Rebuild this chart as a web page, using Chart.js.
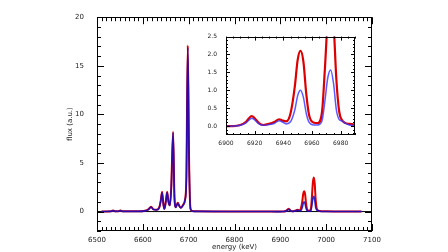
<!DOCTYPE html>
<html><head><meta charset="utf-8">
<script src="https://cdn.jsdelivr.net/npm/chart.js@4/dist/chart.umd.min.js"></script>
<style>
html,body{margin:0;padding:0;background:#fff;}
#wrap{position:relative;width:448px;height:252px;}
#main{position:absolute;left:0;top:0;}
#inset{position:absolute;left:190px;top:24px;}
</style></head>
<body><div id="wrap"><canvas id="main" width="448" height="252"></canvas><canvas id="inset" width="170" height="128"></canvas></div>
<script>
const energy = [6510,6530,6535,6540,6546,6551,6556,6590,6605,6612,6618,6623,6630,6636,6639,6642,6645,6647,6650,6653,6656,6659,6662,6666,6669,6672,6676,6680,6683,6688,6692,6695,6698,6701,6704,6708,6720,6800,6880,
 6900,6905,6910,6914,6917,6918,6920,6923,6926,6930,6934,6937,6939,6942,6945,6948,6950,6952,6954,6956,6958,6961,6964,6967,6969,6971,6973,6975,6977,6979,6981,6983,6986,6990,7000,7040,7077];
const fluxRed = [0.0,0.02,0.12,0.02,0.03,0.12,0.02,0.02,0.08,0.22,0.5,0.22,0.18,0.45,1.1,2.05,0.7,0.28,1.0,2.05,1.0,0.65,2.5,8.2,1.5,0.45,0.9,0.55,0.4,0.7,1.2,3.5,17.1,5.0,0.3,0.05,0.02,0.0,0.0,
 0.0,0.0,0.03,0.12,0.26,0.28,0.22,0.08,0.03,0.06,0.12,0.19,0.16,0.13,0.35,1.1,1.85,2.1,1.8,0.9,0.3,0.1,0.08,0.4,1.6,3.0,3.5,2.9,1.3,0.4,0.16,0.09,0.06,0.04,0.02,0.0,0.0];
const fluxBlue = [0.0,0.02,0.1,0.02,0.03,0.1,0.02,0.02,0.07,0.2,0.46,0.2,0.16,0.42,1.05,1.95,0.65,0.26,0.95,1.95,0.95,0.62,2.4,8.1,1.45,0.42,0.85,0.52,0.38,0.66,1.15,3.4,16.9,4.9,0.28,0.04,0.02,0.0,0.0,
 -0.01,0.0,0.02,0.09,0.2,0.22,0.17,0.06,0.02,0.04,0.08,0.15,0.12,0.06,0.12,0.45,0.85,1.0,0.8,0.35,0.1,0.03,0.03,0.15,0.7,1.35,1.57,1.2,0.45,0.18,0.14,0.08,0.03,0.01,0.0,0.0,0.0];
const zeroLine = [[6500,0],[7100,0]];
const xTicksMain = [6500,6600,6700,6800,6900,7000,7100];
const yTicksMain = [0,5,10,15,20];
const xTicksInset = [6900,6920,6940,6960,6980];
const yTicksInset = [0,0.5,1,1.5,2,2.5];

const pts = arr => energy.map((e,i)=>({x:e,y:arr[i]}));

const inTicks = {
  id:'inTicks',
  afterDraw(chart, args, o){
    const ctx = chart.ctx, a = chart.chartArea, xs = chart.scales.x, ys = chart.scales.y;
    ctx.save();
    ctx.strokeStyle = '#000'; ctx.lineWidth = 1;
    ctx.strokeRect(Math.round(a.left)+0.5, Math.round(a.top)+0.5, Math.round(a.right-a.left)-1, Math.round(a.bottom-a.top)-1);
    ctx.beginPath();
    const loop = (min,max,step,maj,fn) => {
      for(let k=Math.ceil(min/step-1e-9); k*step<=max+1e-9; k++){
        const v = k*step; const r = v/maj; fn(v, Math.abs(r-Math.round(r))<1e-6);
      }
    };
    loop(xs.min, xs.max, o.xMinor, o.xMajor, (v,m)=>{
      const px = Math.round(xs.getPixelForValue(v))+0.5, L = m?o.maj:o.min;
      ctx.moveTo(px,a.bottom); ctx.lineTo(px,a.bottom-L);
      ctx.moveTo(px,a.top); ctx.lineTo(px,a.top+L);
    });
    loop(ys.min, ys.max, o.yMinor, o.yMajor, (v,m)=>{
      const py = Math.round(ys.getPixelForValue(v))+0.5, L = m?o.maj:o.min;
      ctx.moveTo(a.left,py); ctx.lineTo(a.left+L,py);
      ctx.moveTo(a.right,py); ctx.lineTo(a.right-L,py);
    });
    ctx.stroke();
    ctx.restore();
  }
};

const FONT = "'DejaVu Sans', sans-serif";
const plain = v => String(v);

new Chart(document.getElementById('main'), {
  type:'line',
  data:{datasets:[
    {data:zeroLine.map(p=>({x:p[0],y:p[1]})), borderColor:'#000', borderWidth:1, pointRadius:0, order:3},
    {data:pts(fluxRed), borderColor:'rgb(225,0,0)', borderWidth:2, pointRadius:0, cubicInterpolationMode:'monotone', order:2},
    {data:pts(fluxBlue), borderColor:'rgba(10,10,200,0.85)', borderWidth:1.6, pointRadius:0, cubicInterpolationMode:'monotone', order:1}
  ]},
  options:{
    responsive:false, animation:false, devicePixelRatio:1,
    layout:{padding:{left:66,top:5,right:76,bottom:1}},
    plugins:{legend:{display:false}, tooltip:{enabled:false},
      inTicks:{xMinor:10,xMajor:100,yMinor:1,yMajor:5,maj:7,min:4}},
    scales:{
      x:{type:'linear',min:6500,max:7100,
        grid:{display:false,drawTicks:false}, border:{display:false},
        afterBuildTicks:s=>{s.ticks = xTicksMain.map(v=>({value:v}));},
        afterFit:s=>{s.height=20;},
        ticks:{font:{family:FONT,size:7},color:'#222',padding:5,maxRotation:0,autoSkip:false,callback:plain},
        title:{display:true,text:'energy (keV)',font:{family:FONT,size:7},color:'#222',padding:0}},
      y:{min:-2,max:20,
        grid:{display:false,drawTicks:false}, border:{display:false},
        afterBuildTicks:s=>{s.ticks = yTicksMain.map(v=>({value:v}));},
        afterFit:s=>{s.width=31;},
        ticks:{font:{family:FONT,size:7},color:'#222',padding:13,callback:plain},
        title:{display:true,text:'flux (a.u.)',font:{family:FONT,size:7},color:'#222',padding:0}}
    }
  },
  plugins:[inTicks]
});

new Chart(document.getElementById('inset'), {
  type:'line',
  data:{datasets:[
    {data:pts(fluxRed), borderColor:'rgb(220,0,0)', borderWidth:2.2, pointRadius:0, cubicInterpolationMode:'monotone', order:2},
    {data:pts(fluxBlue), borderColor:'rgba(50,50,255,0.8)', borderWidth:1.5, pointRadius:0, cubicInterpolationMode:'monotone', order:1}
  ]},
  options:{
    responsive:false, animation:false, devicePixelRatio:1,
    layout:{padding:{left:0,top:9,right:5,bottom:0}},
    plugins:{legend:{display:false}, tooltip:{enabled:false},
      inTicks:{xMinor:5,xMajor:20,yMinor:0.1,yMajor:0.5,maj:4,min:2}},
    scales:{
      x:{type:'linear',min:6900,max:6990,
        grid:{display:false,drawTicks:false}, border:{display:false},
        afterBuildTicks:s=>{s.ticks = xTicksInset.map(v=>({value:v}));},
        afterFit:s=>{s.height=17;},
        ticks:{font:{family:FONT,size:6},color:'#222',padding:5,maxRotation:0,autoSkip:false,callback:plain}},
      y:{min:-0.25,max:2.5,
        grid:{display:false,drawTicks:false}, border:{display:false},
        afterBuildTicks:s=>{s.ticks = yTicksInset.map(v=>({value:v}));},
        afterFit:s=>{s.width=36;},
        ticks:{font:{family:FONT,size:6},color:'#222',padding:9,callback:v=>Number(v).toFixed(1)}}
    }
  },
  plugins:[inTicks]
});
</script></body></html>
